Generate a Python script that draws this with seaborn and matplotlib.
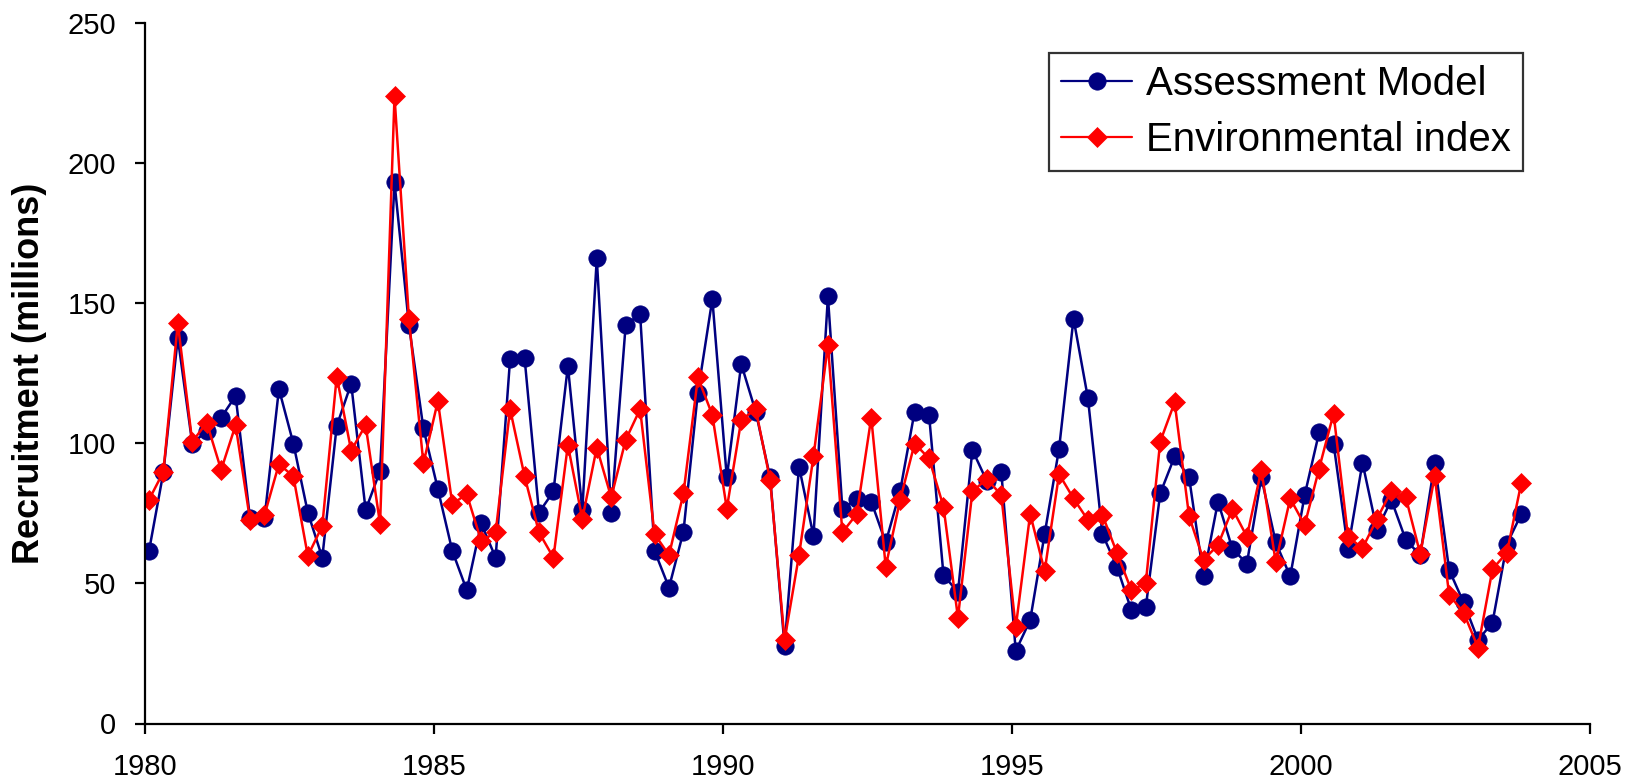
import numpy as np
import pandas as pd
import matplotlib
matplotlib.use("Agg")
import matplotlib.pyplot as plt
import seaborn as sns

# Quarterly recruitment estimates, 1980-2003
years = list(range(1980, 2004))
quarters = [1, 2, 3, 4]

assessment_model = [
    61.4, 89.6, 137.6, 99.9, 104.4, 109.2, 116.9, 73.2, 73.2, 119.4,
    99.9, 75.3, 59.2, 106.2, 121.3, 76.2, 90.1, 193.1, 142.2, 105.3,
    83.7, 61.6, 47.6, 71.4, 59.2, 130.1, 130.6, 75.3, 82.8, 127.6,
    76.2, 166.0, 75.3, 142.2, 146.1, 61.6, 48.5, 68.5, 118.1, 151.5,
    87.8, 128.3, 111.3, 87.8, 27.7, 91.7, 66.9, 152.4, 76.7, 80.1,
    79.2, 64.6, 83.0, 111.3, 110.1, 53.0, 46.8, 97.6, 86.5, 89.9,
    25.9, 36.9, 67.6, 98.1, 144.5, 116.0, 67.6, 56.0, 40.5, 41.4,
    82.1, 95.3, 87.8, 52.5, 79.2, 62.3, 57.1, 87.8, 64.6, 52.5,
    81.5, 103.9, 99.9, 62.3, 93.1, 69.1, 79.8, 65.5, 60.1, 93.1,
    54.8, 43.2, 29.8, 36.0, 64.1, 74.8,
]

environmental_index = [
    79.8, 89.8, 142.9, 100.5, 107.4, 90.5, 106.5, 72.6, 74.4, 92.6,
    88.2, 59.8, 70.5, 123.8, 97.4, 106.5, 71.2, 223.8, 144.4, 92.8,
    115.1, 78.3, 81.9, 65.1, 68.2, 112.2, 88.3, 68.2, 59.2, 99.4,
    73.0, 98.5, 80.7, 101.2, 112.2, 67.6, 60.1, 82.1, 123.5, 110.1,
    76.7, 108.3, 112.2, 86.9, 29.8, 60.1, 95.3, 135.1, 68.2, 74.8,
    109.2, 56.0, 79.8, 99.9, 94.6, 77.4, 37.8, 82.8, 87.3, 81.5,
    34.3, 74.8, 54.4, 89.0, 80.3, 72.6, 74.4, 61.0, 47.6, 50.0,
    100.6, 114.6, 73.9, 58.4, 63.7, 76.6, 66.7, 90.5, 57.5, 80.3,
    70.8, 91.0, 110.6, 66.7, 62.5, 73.0, 83.0, 80.7, 60.5, 88.3,
    45.9, 39.6, 27.1, 55.1, 61.0, 86.0,
]

x_ticks = [1980, 1985, 1990, 1995, 2000, 2005]
y_ticks = [0, 50, 100, 150, 200, 250]

# decimal time for each quarter
yr = np.repeat(years, len(quarters))
qt = np.tile(quarters, len(years))
t = yr + (qt - 0.75) / 4.0

df = pd.DataFrame({"time": t,
                   "Assessment Model": assessment_model,
                   "Environmental index": environmental_index})

sns.set_theme(style="white")
plt.rcParams["font.family"] = ["Liberation Sans", "DejaVu Sans"]
plt.rcParams["text.color"] = "black"
plt.rcParams["axes.labelcolor"] = "black"

fig = plt.figure(figsize=(16.26, 7.83), dpi=100)
ax = fig.add_axes([145.3 / 1626, 1 - 723.5 / 783, (1590 - 145.3) / 1626, (723.5 - 23) / 783])

navy = "#000080"
red = "#FF0000"

sns.lineplot(data=df, x="time", y="Assessment Model", ax=ax, sort=False, estimator=None,
             color=navy, linewidth=1.8, marker="o", markersize=12.5,
             markerfacecolor=navy, markeredgecolor=navy, markeredgewidth=0.5,
             label="Assessment Model")
sns.lineplot(data=df, x="time", y="Environmental index", ax=ax, sort=False, estimator=None,
             color=red, linewidth=1.8, marker="D", markersize=9.8,
             markerfacecolor=red, markeredgecolor=red, markeredgewidth=0.5,
             label="Environmental index")

ax.set_xlim(1980, 2005)
ax.set_ylim(0, 250)
ax.set_xticks(x_ticks)
ax.set_yticks(y_ticks)
ax.set_xlabel("")
ax.set_ylabel("Recruitment (millions)", fontsize=26, fontweight="bold", color="black")
ax.yaxis.set_label_coords(-0.068, 0.5)

for side in ("top", "right"):
    ax.spines[side].set_visible(False)
for side in ("left", "bottom"):
    ax.spines[side].set_color("black")
    ax.spines[side].set_linewidth(1.6)

ax.tick_params(axis="both", which="major", direction="out", length=7, width=1.6,
               color="black", labelcolor="black", labelsize=21, pad=14,
               bottom=True, left=True)

leg = ax.legend(loc="upper right", bbox_to_anchor=(1523 / 1626, 1 - 53 / 783),
                bbox_transform=fig.transFigure, fontsize=29, frameon=True,
                fancybox=False, shadow=False, numpoints=1, handlelength=1.75,
                handletextpad=0.35, borderpad=0.3, labelspacing=0.45, borderaxespad=0)
leg.get_frame().set_edgecolor("black")
leg.get_frame().set_linewidth(1.6)
for text in leg.get_texts():
    text.set_color("black")
for line in leg.get_lines():
    line.set_linewidth(1.6)

fig.savefig("out.png", dpi=100, facecolor="white")
